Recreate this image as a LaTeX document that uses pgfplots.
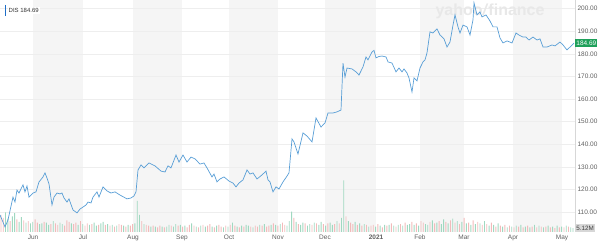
\documentclass[border=0pt]{standalone}
\usepackage{pgfplots}
\pgfplotsset{compat=1.18}
\usepackage{pgfplotstable}
\usepackage{fontspec}
\setmainfont{Liberation Sans}

\definecolor{linec}{RGB}{88,158,214}
\definecolor{legbar}{RGB}{30,110,200}
\definecolor{band}{RGB}{245,245,245}
\definecolor{gridc}{RGB}{238,238,238}
\definecolor{volup}{RGB}{160,216,192}
\definecolor{voldn}{RGB}{242,186,186}
\definecolor{tickc}{RGB}{95,95,95}
\definecolor{pricegreen}{RGB}{30,160,90}
\definecolor{wm}{RGB}{232,232,232}
\definecolor{axisc}{RGB}{215,215,215}
\definecolor{volbox}{RGB}{215,215,215}

\pgfplotstableread{
x v
0 108.7
5 103.4
8 106.5
13 116.6
15 114.4
17 119.7
19 118.4
23 122.0
25 118.9
27 121.5
29 116.6
33 118.4
36 118.9
39 123.3
43 125.5
45 127.3
47 125.0
49 122.4
52 113.1
54 116.6
57 118.4
60 118.0
62 118.4
64 116.2
67 114.4
69 115.8
73 110.9
77 109.6
80 111.3
83 112.2
86 113.1
88 114.4
91 114.0
93 116.6
97 118.9
99 116.6
103 121.1
107 119.3
111 118.4
115 118.9
120 117.5
127 115.8
131 116.2
134 117.1
136 118.9
138 128.6
141 130.8
144 129.5
149 131.7
155 130.4
161 128.1
165 127.7
168 130.4
171 129.5
176 135.2
179 132.1
183 135.2
187 132.1
191 134.3
195 133.5
200 131.2
204 131.7
207 129.5
212 125.5
214 126.8
217 123.3
220 124.6
224 125.5
229 123.7
233 122.8
236 121.1
239 122.8
243 124.2
247 128.6
250 126.8
253 127.3
257 124.6
262 126.4
266 128.1
268 124.2
270 123.3
273 118.9
276 121.1
279 120.2
283 123.3
287 125.9
289 127.3
292 142.3
294 141.0
298 135.7
303 145.0
307 143.6
312 141.0
316 151.6
321 147.6
325 149.4
328 153.8
333 153.8
337 154.3
341 155.1
343 175.9
345 169.7
347 173.7
352 173.3
356 172.0
359 170.6
363 174.2
366 178.6
368 177.3
372 180.8
374 181.5
376 178.2
379 178.8
382 179.0
386 178.6
388 176.4
392 175.9
396 172.0
399 173.7
402 172.0
404 173.3
407 171.5
409 169.3
412 163.1
414 169.3
417 168.0
420 173.7
423 176.4
425 177.3
427 180.4
430 189.7
433 189.2
437 191.0
440 188.3
444 186.6
447 183.0
450 185.2
453 192.7
455 197.2
458 191.9
460 189.2
463 192.7
467 191.9
470 188.3
473 195.0
474 202.5
477 197.2
480 198.5
482 196.3
486 197.2
490 194.5
493 191.9
497 191.9
500 187.0
503 184.8
507 185.7
512 184.8
516 189.2
519 188.3
523 187.4
526 187.4
529 186.1
533 187.4
537 186.1
540 186.6
543 183.0
547 183.0
552 183.9
555 183.5
560 185.2
563 183.9
567 181.7
570 183.0
574 184.69
}\pricedata

\pgfplotstableread[row sep=\\]{
v c\\
22 0\\ 18 0\\ 25 1\\ 17 1\\ 14 0\\ 20 1\\ 24 1\\ 16 0\\ 13 1\\ 19 1\\
15 0\\ 12 1\\ 14 0\\ 11 1\\ 13 1\\ 16 0\\ 12 0\\ 10 1\\ 11 1\\ 13 0\\
12 1\\ 9 1\\ 10 0\\ 14 1\\ 11 0\\ 9 0\\ 12 1\\ 10 1\\ 8 0\\ 15 0\\
13 0\\ 11 1\\ 10 0\\ 12 0\\ 9 1\\ 14 0\\ 10 1\\ 8 0\\ 11 0\\ 9 1\\
10 0\\ 12 1\\ 8 1\\ 9 0\\ 11 1\\ 13 1\\ 9 0\\ 10 1\\ 8 0\\ 9 1\\
7 0\\ 8 1\\ 10 0\\ 9 0\\ 8 1\\ 7 0\\ 9 1\\ 8 0\\ 10 0\\ 11 1\\
40 1\\ 22 1\\ 14 0\\ 10 1\\ 9 0\\ 8 0\\ 7 1\\ 8 0\\ 7 1\\ 6 0\\
8 0\\ 7 1\\ 6 0\\ 7 1\\ 9 1\\ 8 0\\ 7 1\\ 10 1\\ 8 0\\ 9 1\\
7 0\\ 8 1\\ 6 0\\ 9 0\\ 11 1\\ 8 0\\ 7 1\\ 6 0\\ 8 1\\ 9 0\\
7 1\\ 8 0\\ 10 0\\ 7 1\\ 6 0\\ 8 1\\ 9 0\\ 7 0\\ 6 1\\ 8 0\\
7 1\\ 9 0\\ 12 1\\ 8 0\\ 7 1\\ 6 0\\ 8 1\\ 7 0\\ 9 1\\ 8 1\\
7 0\\ 6 1\\ 8 0\\ 7 0\\ 9 1\\ 8 0\\ 10 1\\ 7 0\\ 8 0\\ 9 1\\
11 0\\ 9 1\\ 8 0\\ 10 1\\ 12 0\\ 9 0\\ 8 1\\ 14 1\\ 26 1\\ 18 0\\
13 1\\ 10 0\\ 9 1\\ 12 1\\ 11 0\\ 8 1\\ 10 1\\ 9 0\\ 12 1\\ 11 0\\
9 1\\ 13 1\\ 10 0\\ 8 1\\ 11 0\\ 12 1\\ 9 1\\ 10 0\\ 14 1\\ 11 0\\
18 1\\ 66 1\\ 20 0\\ 14 1\\ 12 0\\ 10 0\\ 13 1\\ 9 0\\ 11 1\\ 8 0\\
10 1\\ 9 0\\ 7 1\\ 8 0\\ 9 0\\ 7 1\\ 10 0\\ 8 1\\ 6 0\\ 9 1\\
8 0\\ 9 1\\ 11 0\\ 8 1\\ 7 0\\ 9 1\\ 10 0\\ 8 1\\ 12 0\\ 9 1\\
10 1\\ 13 0\\ 9 1\\ 11 0\\ 8 1\\ 14 0\\ 12 0\\ 10 1\\ 9 1\\ 13 0\\
15 1\\ 11 0\\ 12 1\\ 14 0\\ 10 1\\ 16 1\\ 13 0\\ 11 1\\ 15 0\\ 17 1\\
12 0\\ 14 1\\ 10 0\\ 13 1\\ 18 0\\ 11 1\\ 12 0\\ 9 1\\ 15 0\\ 10 1\\
13 0\\ 11 1\\ 9 0\\ 14 1\\ 10 0\\ 8 1\\ 12 0\\ 9 1\\ 7 0\\ 11 1\\
8 0\\ 7 1\\ 9 0\\ 6 1\\ 8 0\\ 7 1\\ 6 0\\ 8 1\\ 7 0\\ 9 1\\
6 0\\ 7 1\\ 8 0\\ 6 1\\ 7 0\\ 9 1\\ 6 0\\ 8 1\\ 7 0\\ 6 1\\
7 0\\ 8 1\\ 6 0\\ 7 1\\ 5 0\\ 8 1\\ 6 0\\ 7 1\\ 6 0\\ 8 1\\
7 0\\ 6 1\\ 5 1\\
}\voldata

\begin{document}
\begin{tikzpicture}
\useasboundingbox (0pt,0pt) rectangle (600pt,248pt);
% background: month bands, grid, watermark
\begin{axis}[at={(0pt,16pt)}, anchor=south west, width=575pt, height=232pt,
  scale only axis, xmin=0, xmax=575, ymin=101.15, ymax=203.8,
  hide axis, clip=false]
  \fill[band] (axis cs:33,101.15) rectangle (axis cs:83,203.8);
  \fill[band] (axis cs:133,101.15) rectangle (axis cs:182,203.8);
  \fill[band] (axis cs:229,101.15) rectangle (axis cs:278,203.8);
  \fill[band] (axis cs:325,101.15) rectangle (axis cs:376,203.8);
  \fill[band] (axis cs:420,101.15) rectangle (axis cs:464,203.8);
  \fill[band] (axis cs:513,101.15) rectangle (axis cs:562,203.8);
  \pgfplotsinvokeforeach{110,120,130,140,150,160,170,180,190,200}{
    \draw[gridc, line width=0.5pt] (axis cs:0,#1) -- (axis cs:575,#1);
  }
  \node[text=wm, font=\fontsize{16}{16}\selectfont\bfseries, inner sep=0pt]
    at (axis cs:490,198.6) {yahoo\textit{/}finance};
\end{axis}
% volume bars
\begin{axis}[at={(0pt,16pt)}, anchor=south west, width=575pt, height=232pt,
  scale only axis, xmin=0, xmax=575, ymin=0, ymax=297,
  hide axis, clip=false]
  \addplot[ybar, bar width=0.9pt, fill=volup, draw=none]
    table[x expr=\coordindex*2.27+1, y expr={\thisrow{c}>0 ? \thisrow{v} : nan}] {\voldata};
  \addplot[ybar, bar width=0.9pt, fill=voldn, draw=none]
    table[x expr=\coordindex*2.27+1, y expr={\thisrow{c}>0 ? nan : \thisrow{v}}] {\voldata};
  \node[fill=volbox, text=black!75, anchor=west, inner xsep=1.2pt, inner ysep=1.3pt,
    font=\fontsize{6.3}{7}\selectfont] at (axis cs:575,5.12) {5.12M};
\end{axis}
% price line and axes
\begin{axis}[at={(0pt,16pt)}, anchor=south west, width=575pt, height=232pt,
  scale only axis, xmin=0, xmax=575, ymin=101.15, ymax=203.8,
  clip=false, axis line style={draw=none},
  ytick={110,120,130,140,150,160,170,180,190,200},
  yticklabels={110.00,120.00,130.00,140.00,150.00,160.00,170.00,180.00,190.00,200.00},
  yticklabel pos=right, ytick style={draw=none},
  yticklabel style={font=\fontsize{6.5}{7}\selectfont, text=tickc, anchor=west, xshift=-1pt},
  xtick={33,83,133,182,229,278,325,376,420,464,513,562},
  xticklabels={Jun,Jul,Aug,Sep,Oct,Nov,Dec,\textbf{2021},Feb,Mar,Apr,May},
  xtick style={draw=none},
  xticklabel style={font=\fontsize{6.5}{7}\selectfont, text=tickc, yshift=1pt},
  ]
  \draw[axisc, line width=0.6pt] (rel axis cs:1,0) -- (rel axis cs:1,1);
  \addplot[linec, line width=0.7pt, mark=none] table[x=x, y=v] {\pricedata};
  \node[fill=pricegreen, text=white, anchor=west, inner xsep=1.2pt, inner ysep=1.5pt,
    font=\fontsize{6.5}{7}\selectfont] at (axis cs:575,184.69) {184.69};
  \node[fill=white, text=black!80, anchor=west, inner sep=1pt,
    font=\fontsize{6}{7}\selectfont] at (axis cs:7.5,199.2) {DIS 184.69};
  \draw[legbar, line width=1.4pt] (axis cs:5.5,201.6) -- (axis cs:5.5,196.7);
\end{axis}
\end{tikzpicture}
\end{document}
